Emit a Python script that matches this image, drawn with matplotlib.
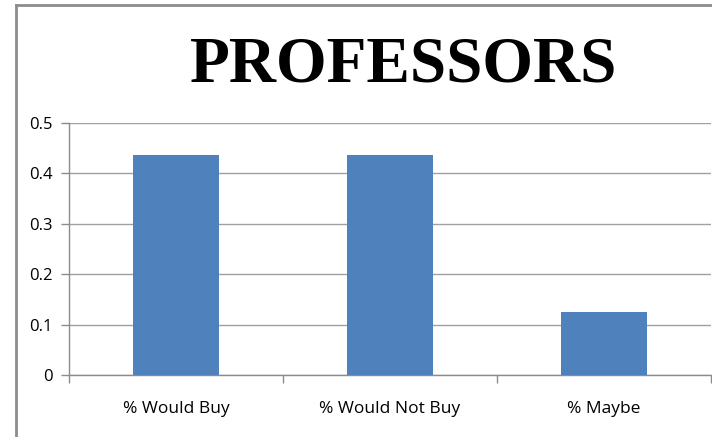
import matplotlib.pyplot as plt
import numpy as np

categories = ["% Would Buy", "% Would Not Buy", "% Maybe"]
values = [0.4375, 0.4375, 0.125]
yticks = [0, 0.1, 0.2, 0.3, 0.4, 0.5]
title = "PROFESSORS"

fig = plt.figure(figsize=(7.12, 4.37), dpi=100)
ax = fig.add_axes([69/712, 62/437, 642/712, 252/437])

x = np.arange(len(categories))
ax.bar(x, values, width=0.4, color="#4f81bd", zorder=3)

ax.set_xlim(-0.5, len(categories) - 0.5)
ax.set_ylim(0, 0.5)
ax.set_yticks(yticks)
ax.set_yticklabels([f"{v:g}" for v in yticks], fontsize=12, family="Open Sans")
ax.grid(axis="y", color="#a0a0a0", linewidth=1, zorder=0)

# category labels sit between the boundary ticks
ax.set_xticks(np.arange(len(categories) + 1) - 0.5)
ax.set_xticklabels([])
ax.set_xticks(x, minor=True)
ax.set_xticklabels(categories, minor=True, fontsize=12.5, family="Open Sans")
ax.tick_params(axis="x", which="minor", length=0, pad=19)
ax.tick_params(axis="x", which="major", length=6, color="#8c8c8c", width=1)
ax.tick_params(axis="y", length=6, color="#8c8c8c", width=1, pad=6)

for side in ["top", "right"]:
    ax.spines[side].set_visible(False)
for side in ["left", "bottom"]:
    ax.spines[side].set_color("#8c8c8c")
    ax.spines[side].set_linewidth(1)

# outer chart frame, only top and left edges show
fig.add_artist(plt.Line2D([15.5/712, 15.5/712], [0, 1 - 4.5/437], color="#8c8c8c", lw=2, transform=fig.transFigure))
fig.add_artist(plt.Line2D([15.5/712, 1], [1 - 4.5/437, 1 - 4.5/437], color="#8c8c8c", lw=2, transform=fig.transFigure))

fig.text(404/712, 1 - 82/437, title, ha="center", va="baseline", fontsize=47,
         family="Liberation Serif", fontweight="bold")

fig.savefig("out.png", dpi=100)
